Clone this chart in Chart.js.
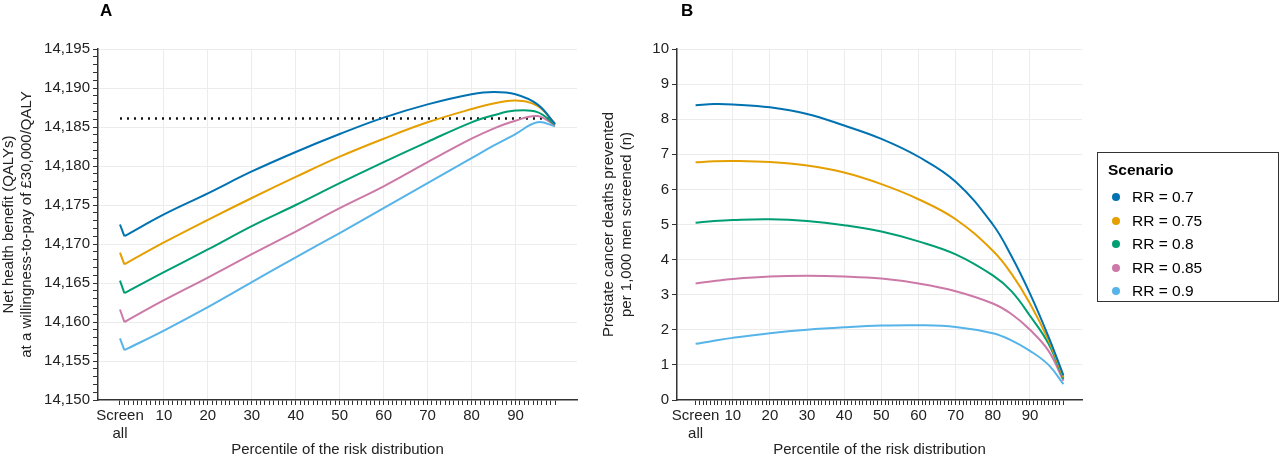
<!DOCTYPE html>
<html>
<head>
<meta charset="utf-8">
<script src="https://cdn.jsdelivr.net/npm/chart.js@4/dist/chart.umd.min.js"></script>
<style>
body { margin: 0; background: #fff; font-family: "Liberation Sans", Arial, sans-serif; }
#wrap { position: relative; width: 1280px; height: 467px; }
canvas { position: absolute; top: 0; }
.panel { position: absolute; top: 0; font-weight: bold; font-size: 17px; }
#legend { position: absolute; left: 1097px; top: 152px; width: 182px; height: 150px; border: 1.5px solid #333; box-sizing: border-box; padding: 8px 10px; font-size: 15.5px; }
#legend .t { font-weight: bold; margin-bottom: 6px; }
#legend .i { height: 23.5px; line-height: 23.5px; }
#legend .d { display: inline-block; width: 8px; height: 8px; border-radius: 50%; margin: 0 12px 1px 4px; }
</style>
</head>
<body>
<div id="wrap">
  <canvas id="cA" width="600" height="467" style="left:0;width:600px;height:467px"></canvas>
  <canvas id="cB" width="680" height="467" style="left:600px;width:680px;height:467px"></canvas>
  <div class="panel" style="left:100px;top:1px">A</div>
  <div class="panel" style="left:681px;top:1px">B</div>
  <div id="legend"><div class="t">Scenario</div></div>
</div>
<script>
var scenarios = ["RR = 0.7", "RR = 0.75", "RR = 0.8", "RR = 0.85", "RR = 0.9"];
var colors = ["#0072B2", "#E69F00", "#009E73", "#CC79A7", "#56B4E9"];

// panel A: net health benefit (x = 0 is "Screen all")
var xA = [0, 1, 10, 20, 30, 40, 50, 60, 70, 80, 85, 90, 95, 99];
var nhb = [
  [14172.5, 14171.0, 14173.8, 14176.5, 14179.3, 14181.8, 14184.1, 14186.2, 14187.9, 14189.2, 14189.5, 14189.2, 14187.9, 14185.4],
  [14168.9, 14167.4, 14170.2, 14173.1, 14175.9, 14178.6, 14181.2, 14183.5, 14185.6, 14187.3, 14188.0, 14188.4, 14187.7, 14185.4],
  [14165.3, 14163.7, 14166.4, 14169.3, 14172.3, 14175.0, 14177.8, 14180.5, 14183.1, 14185.6, 14186.5, 14187.1, 14186.9, 14185.3],
  [14161.6, 14160.0, 14162.8, 14165.7, 14168.7, 14171.6, 14174.6, 14177.4, 14180.5, 14183.5, 14184.8, 14185.8, 14186.4, 14185.2],
  [14157.9, 14156.4, 14158.9, 14161.9, 14165.1, 14168.3, 14171.4, 14174.6, 14177.8, 14181.0, 14182.6, 14184.1, 14185.6, 14185.1]
];
var screenAllNhb = 14186.1;

// panel B: deaths prevented per 1,000 screened
var xB = [0, 5, 10, 20, 30, 40, 50, 60, 70, 80, 85, 90, 95, 99];
var deaths = [
  [8.40, 8.43, 8.42, 8.34, 8.15, 7.82, 7.44, 6.93, 6.22, 5.00, 4.10, 3.03, 1.80, 0.70],
  [6.77, 6.80, 6.81, 6.78, 6.68, 6.48, 6.15, 5.72, 5.15, 4.25, 3.60, 2.75, 1.70, 0.65],
  [5.05, 5.10, 5.13, 5.15, 5.10, 4.98, 4.80, 4.52, 4.15, 3.55, 3.10, 2.40, 1.60, 0.60],
  [3.32, 3.39, 3.45, 3.52, 3.54, 3.52, 3.46, 3.32, 3.10, 2.75, 2.45, 2.00, 1.40, 0.55],
  [1.60, 1.69, 1.77, 1.90, 2.00, 2.07, 2.12, 2.13, 2.08, 1.90, 1.70, 1.40, 1.00, 0.45]
];

var font = { family: "'Liberation Sans', Arial, sans-serif", size: 15 };

function xScale() {
  return {
    type: 'linear', min: -5, max: 104,
    afterBuildTicks: function (s) {
      var t = [];
      for (var i = 0; i <= 99; i++) t.push({ value: i });
      s.ticks = t;
    },
    afterFit: function (s) { s.height = 63; },
    ticks: {
      autoSkip: false, maxRotation: 0, color: '#222', font: font, padding: 2,
      callback: function (v) {
        if (v === 0) return ['Screen', 'all'];
        return v % 10 === 0 ? String(v) : '';
      }
    },
    grid: {
      tickLength: 5, tickColor: '#333',
      color: function (c) {
        var v = c.tick ? c.tick.value : null;
        return (v !== null && v > 0 && v % 10 === 0) ? '#ececec' : 'rgba(0,0,0,0)';
      }
    },
    border: { color: '#333', width: 1.5 },
    title: { display: true, text: 'Percentile of the risk distribution', color: '#222', font: font, padding: { top: 2 } }
  };
}

function line(pts, color) {
  return { data: pts, borderColor: color, borderWidth: 2, pointRadius: 0, tension: 0.4, fill: false };
}

// A: straight drop from "Screen all" to 1st percentile, then a smooth curve
var dsA = [];
nhb.forEach(function (vals, k) {
  var pts = vals.map(function (v, i) { return { x: xA[i], y: v }; });
  var drop = line(pts.slice(0, 2), colors[k]);
  drop.tension = 0;
  dsA.push(drop);
  dsA.push(line(pts.slice(1), colors[k]));
});
dsA.push({
  data: [{ x: 0, y: screenAllNhb }, { x: 98, y: screenAllNhb }],
  borderColor: '#111', borderWidth: 2.5, borderDash: [2, 5], pointRadius: 0
});

var dsB = deaths.map(function (vals, k) {
  return line(vals.map(function (v, i) { return { x: xB[i], y: v }; }), colors[k]);
});

new Chart(document.getElementById('cA'), {
  type: 'line',
  data: { datasets: dsA },
  options: {
    responsive: false, animation: false,
    layout: { padding: { top: 49, right: 23, left: 0, bottom: 4 } },
    plugins: { legend: { display: false }, tooltip: { enabled: false } },
    scales: {
      x: xScale(),
      y: {
        min: 14150, max: 14195,
        afterBuildTicks: function (s) {
          var t = [];
          for (var v = 14150; v <= 14195; v++) t.push({ value: v });
          s.ticks = t;
        },
        afterFit: function (s) { s.width = 98; },
        ticks: {
          autoSkip: false, color: '#222', font: font, padding: 3,
          callback: function (v) { return v % 5 === 0 ? v.toLocaleString('en-US') : ''; }
        },
        grid: {
          tickLength: 5, tickColor: '#333',
          color: function (c) {
            var v = c.tick ? c.tick.value : null;
            return (v !== null && v % 5 === 0 && v > 14150) ? '#ececec' : 'rgba(0,0,0,0)';
          }
        },
        border: { color: '#333', width: 1.5 },
        title: { display: true, text: ['Net health benefit (QALYs)', 'at a willingness-to-pay of £30,000/QALY'], color: '#222', font: font, padding: 0 }
      }
    }
  }
});

new Chart(document.getElementById('cB'), {
  type: 'line',
  data: { datasets: dsB },
  options: {
    responsive: false, animation: false,
    layout: { padding: { top: 49, right: 198, left: 0, bottom: 4 } },
    plugins: { legend: { display: false }, tooltip: { enabled: false } },
    scales: {
      x: xScale(),
      y: {
        min: 0, max: 10,
        afterFit: function (s) { s.width = 77; },
        ticks: { stepSize: 1, color: '#222', font: font, padding: 3 },
        grid: {
          tickLength: 5, tickColor: '#333',
          color: function (c) { return c.tick && c.tick.value > 0 ? '#ececec' : 'rgba(0,0,0,0)'; }
        },
        border: { color: '#333', width: 1.5 },
        title: { display: true, text: ['Prostate cancer deaths prevented', 'per 1,000 men screened (n)'], color: '#222', font: font, padding: 0 }
      }
    }
  }
});

var lg = document.getElementById('legend');
scenarios.forEach(function (s, k) {
  var d = document.createElement('div');
  d.className = 'i';
  d.innerHTML = '<span class="d" style="background:' + colors[k] + '"></span>' + s;
  lg.appendChild(d);
});
</script>
</body>
</html>
